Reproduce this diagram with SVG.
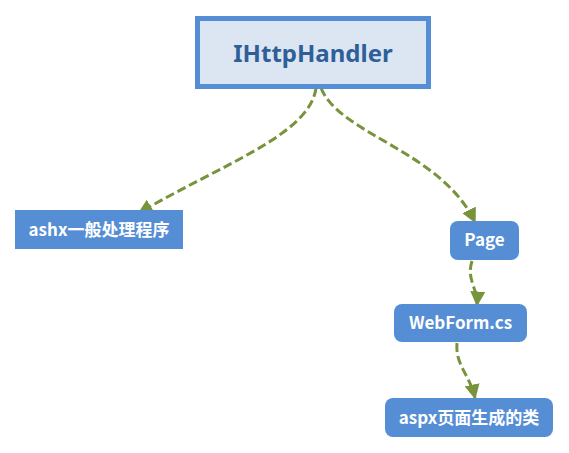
<svg xmlns="http://www.w3.org/2000/svg" width="569" height="453" viewBox="0 0 569 453">
<style>
.lbl{font-family:"Noto Sans CJK SC","Liberation Sans",sans-serif;font-weight:bold;fill:#fff;font-size:17px;text-anchor:middle}
.box{fill:#558ed5}
.conn{fill:none;stroke:#77933c;stroke-width:3;stroke-dasharray:9 4}
</style>
<defs>
<marker id="ah" viewBox="0 0 10 10" refX="9" refY="5" markerWidth="5" markerHeight="5" markerUnits="strokeWidth" orient="auto">
<path d="M0,0 L10,5 L0,10 z" fill="#77933c"/>
</marker>
</defs>
<rect width="569" height="453" fill="#fff"/>
<g id="connectors">
<path class="conn" marker-end="url(#ah)" d="M316,88 C310,135 220,165 139,213"/>
<path class="conn" marker-end="url(#ah)" d="M321,88 C340,135 440,150 475,222"/>
<path class="conn" marker-end="url(#ah)" d="M472,261 C466,280 478,288 477,305"/>
<path class="conn" marker-end="url(#ah)" d="M457,343 C455,365 470,375 475,398"/>
</g>
<g id="IHttpHandler">
<rect x="197.5" y="18.5" width="231" height="68" fill="#dce6f2" stroke="#558ed5" stroke-width="5"/>
<text x="313" y="62" font-family="Noto Sans,Liberation Sans,sans-serif" font-weight="bold" font-size="24" fill="#2f5f99" text-anchor="middle">IHttpHandler</text>
</g>
<g id="ashx">
<rect class="box" x="15" y="210" width="168" height="39"/>
<text class="lbl" x="99" y="236">ashx一般处理程序</text>
</g>
<g id="Page">
<rect class="box" x="450" y="221" width="69" height="39" rx="8"/>
<text class="lbl" x="484.5" y="246">Page</text>
</g>
<g id="WebForm">
<rect class="box" x="394" y="304" width="133" height="38" rx="8"/>
<text class="lbl" x="460.5" y="329">WebForm.cs</text>
</g>
<g id="aspx">
<rect class="box" x="385" y="398" width="168" height="39" rx="8"/>
<text class="lbl" x="469" y="424">aspx页面生成的类</text>
</g>
</svg>
